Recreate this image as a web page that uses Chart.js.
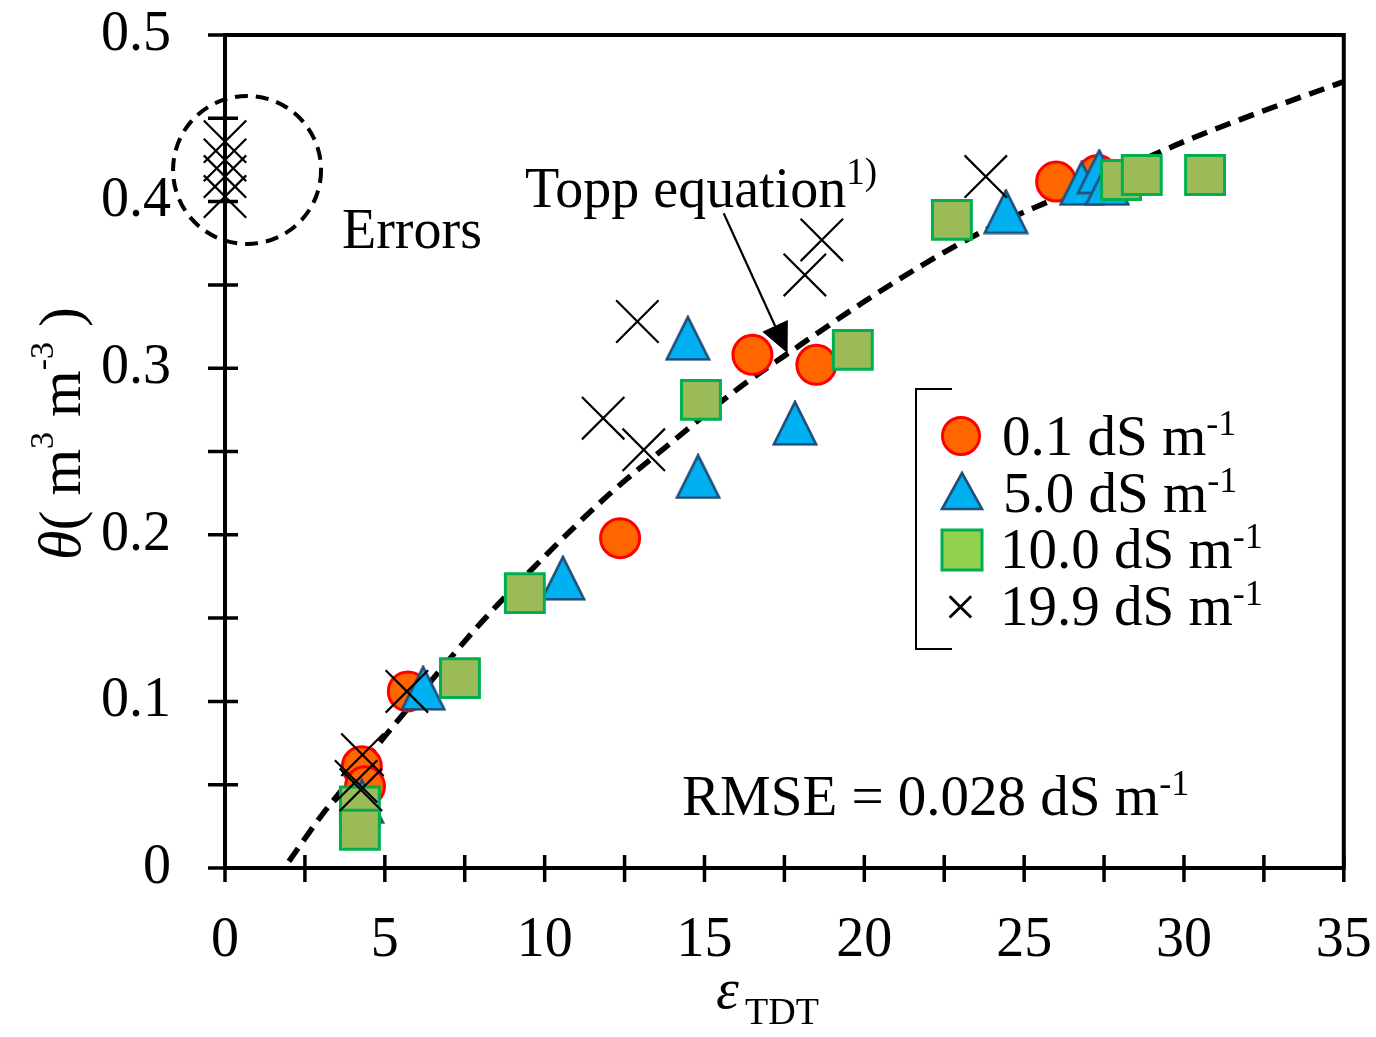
<!DOCTYPE html>
<html><head><meta charset="utf-8">
<script src="https://cdn.jsdelivr.net/npm/chart.js@4.4.0/dist/chart.umd.min.js"></script>
<style>html,body{margin:0;padding:0;background:#fff;}canvas{display:block;}</style>
</head><body>
<canvas id="c" width="1376" height="1037"></canvas>
<script>
// ---- data ----
const seriesLabels = ['0.1 dS m', '5.0 dS m', '10.0 dS m', '19.9 dS m'];

const epsCircle   = [4.28, 4.38, 5.72, 12.36, 16.5, 18.5, 26.0, 27.3];
const thetaCircle = [0.061, 0.049, 0.106, 0.198, 0.308, 0.302, 0.412, 0.416];

const epsTri   = [4.28, 6.2, 10.57, 14.48, 14.8, 17.83, 24.43, 26.8, 27.35, 27.6];
const thetaTri = [0.040, 0.108, 0.174, 0.318, 0.235, 0.267, 0.394, 0.411, 0.418, 0.411];

const epsSq   = [4.22, 4.22, 7.35, 9.38, 14.89, 19.64, 22.74, 28.03, 28.68, 30.66];
const thetaSq = [0.037, 0.023, 0.114, 0.165, 0.281, 0.311, 0.389, 0.413, 0.416, 0.416];

const epsX   = [0, 0, 0, 0, 4.1, 4.25, 4.3, 5.69, 11.83, 12.9, 13.1, 18.14, 18.67, 23.8];
const thetaX = [0.436, 0.425, 0.415, 0.403, 0.052, 0.047, 0.068, 0.106, 0.270, 0.328, 0.251, 0.356, 0.377, 0.415];

// Topp equation curve
const eps_Topp   = [2.0, 3.0, 4.0, 5.0, 6.0, 8.0, 10, 12, 14, 16, 18, 20, 22, 24, 26, 28, 30, 32, 35];
const theta_Topp = [0.004, 0.031, 0.055, 0.079, 0.102, 0.147, 0.187, 0.224, 0.256, 0.287, 0.314, 0.340, 0.364, 0.385, 0.402, 0.419, 0.436, 0.451, 0.472];

// ticks
const xTickValues = [0, 5, 10, 15, 20, 25, 30, 35];
const xTickLabels = ['0', '5', '10', '15', '20', '25', '30', '35'];
const yTickValues = [0, 0.1, 0.2, 0.3, 0.4, 0.5];
const yTickLabels = ['0', '0.1', '0.2', '0.3', '0.4', '0.5'];
const xTickMarks = [0, 2.5, 5, 7.5, 10, 12.5, 15, 17.5, 20, 22.5, 25, 27.5, 30, 32.5, 35];
const yTickMarks = [0, 0.05, 0.1, 0.15, 0.2, 0.25, 0.3, 0.35, 0.4, 0.45, 0.5];

// annotation anchors (data coordinates)
const errorsCircleCenter = {x: 0.69, y: 0.419};
const arrowTip = {x: 17.6, y: 0.309};
const arrowTail = {x: 15.6, y: 0.393};

// ---- rendering ----
const FONT = "'Liberation Serif', 'Times New Roman', serif";
const zip = (xs, ys) => xs.map((x, i) => ({x, y: ys[i]}));

// triangle marker (slightly taller than equilateral, like the reference)
const triImg = document.createElement('canvas');
triImg.width = 46; triImg.height = 46;
(function () {
  const c = triImg.getContext('2d');
  c.beginPath();
  c.moveTo(23, 1.8); c.lineTo(44.2, 44.2); c.lineTo(1.8, 44.2); c.closePath();
  c.fillStyle = '#00B0F0'; c.fill();
  c.lineWidth = 2.6; c.strokeStyle = '#1F4E79'; c.lineJoin = 'miter'; c.stroke();
})();

function drawRuns(ctx, x, y, parts) {
  let cx = x;
  for (const p of parts) {
    ctx.font = (p.italic ? 'italic ' : '') + p.size + 'px ' + FONT;
    ctx.fillText(p.t, cx, y - (p.rise || 0));
    cx += ctx.measureText(p.t).width + (p.gap || 0);
  }
  return cx;
}

const deco = {
  id: 'deco',
  beforeDatasetsDraw(chart) {
    const {ctx, chartArea: a, scales: {x, y}} = chart;
    ctx.save();
    ctx.strokeStyle = '#000';
    ctx.lineWidth = 4;
    ctx.strokeRect(a.left, a.top, a.right - a.left, a.bottom - a.top);
    ctx.lineWidth = 3.5;
    ctx.beginPath();
    for (const v of yTickMarks) {
      const py = y.getPixelForValue(v);
      ctx.moveTo(a.left - 17, py); ctx.lineTo(a.left + 13, py);
    }
    for (const v of xTickMarks) {
      const px = x.getPixelForValue(v);
      ctx.moveTo(px, a.bottom - 13); ctx.lineTo(px, a.bottom + 14);
    }
    ctx.stroke();
    ctx.restore();
  },
  afterDatasetsDraw(chart) {
    const {ctx, scales: {x, y}} = chart;
    ctx.save();
    ctx.fillStyle = '#000';
    ctx.strokeStyle = '#000';
    ctx.textBaseline = 'alphabetic';
    ctx.textAlign = 'left';

    // dashed "Errors" circle
    ctx.lineWidth = 4;
    ctx.setLineDash([13, 8]);
    ctx.beginPath();
    ctx.arc(x.getPixelForValue(errorsCircleCenter.x), y.getPixelForValue(errorsCircleCenter.y), 74, 0, Math.PI * 2);
    ctx.stroke();
    ctx.setLineDash([]);

    // arrow to Topp curve
    const tx = x.getPixelForValue(arrowTip.x), ty = y.getPixelForValue(arrowTip.y);
    const sx = x.getPixelForValue(arrowTail.x), sy = y.getPixelForValue(arrowTail.y);
    const dx = tx - sx, dy = ty - sy, L = Math.hypot(dx, dy);
    const ux = dx / L, uy = dy / L, hl = 30, hw = 14;
    ctx.lineWidth = 2.2;
    ctx.beginPath();
    ctx.moveTo(sx, sy); ctx.lineTo(tx - ux * hl, ty - uy * hl);
    ctx.stroke();
    ctx.beginPath();
    ctx.moveTo(tx, ty);
    ctx.lineTo(tx - ux * hl - uy * hw, ty - uy * hl + ux * hw);
    ctx.lineTo(tx - ux * hl + uy * hw, ty - uy * hl - ux * hw);
    ctx.closePath();
    ctx.fill();

    // texts
    drawRuns(ctx, 525, 207, [{t: 'Topp equation', size: 56}, {t: '1)', size: 37, rise: 23}]);
    drawRuns(ctx, 342, 248, [{t: 'Errors', size: 56}]);
    drawRuns(ctx, 682, 815, [{t: 'RMSE = 0.028 dS m', size: 57}, {t: '-1', size: 36, rise: 20}]);

    // legend bracket
    ctx.lineWidth = 2;
    ctx.beginPath();
    ctx.moveTo(952, 389); ctx.lineTo(916, 389); ctx.lineTo(916, 649); ctx.lineTo(952, 649);
    ctx.stroke();

    // legend markers
    ctx.lineWidth = 3;
    ctx.beginPath(); ctx.arc(961, 436, 18.5, 0, Math.PI * 2);
    ctx.fillStyle = '#FF6600'; ctx.fill(); ctx.strokeStyle = '#FF0000'; ctx.stroke();
    ctx.beginPath(); ctx.moveTo(962, 473); ctx.lineTo(982, 509); ctx.lineTo(942, 509); ctx.closePath();
    ctx.fillStyle = '#00B0F0'; ctx.fill(); ctx.strokeStyle = '#1F4E79'; ctx.lineWidth = 2.6; ctx.stroke();
    ctx.fillStyle = '#92D050'; ctx.fillRect(942, 530, 40, 40);
    ctx.strokeStyle = '#00B050'; ctx.lineWidth = 3; ctx.strokeRect(942, 530, 40, 40);

    ctx.fillStyle = '#000';
    drawRuns(ctx, 944, 626, [{t: '\u00D7', size: 58}]);
    const rowsY = [455, 512, 568, 625];
    const rowsX = [1002, 1003, 1000, 1000];
    seriesLabels.forEach((lab, i) => {
      drawRuns(ctx, rowsX[i], rowsY[i], [{t: lab, size: 57}, {t: '-1', size: 36, rise: 20}]);
    });

    // y axis title (rotated)
    ctx.save();
    ctx.translate(80, 560);
    ctx.rotate(-Math.PI / 2);
    drawRuns(ctx, 0, 0, [
      {t: '\u03B8', size: 60, italic: true},
      {t: '( m', size: 60},
      {t: '3', size: 34, rise: 27},
      {t: ' m', size: 60},
      {t: '-3', size: 34, rise: 27},
      {t: ' )', size: 60}
    ]);
    ctx.restore();

    // x axis title
    drawRuns(ctx, 716, 1008, [{t: '\u03B5', size: 58, italic: true}]);
    drawRuns(ctx, 745, 1024, [{t: 'TDT', size: 38}]);
    ctx.restore();
  }
};

const zeroPad = s => { s.paddingTop = 0; s.paddingBottom = 0; s.paddingLeft = 0; s.paddingRight = 0; };

new Chart(document.getElementById('c'), {
  type: 'scatter',
  data: {
    datasets: [
      {
        label: seriesLabels[3], data: zip(epsX, thetaX), order: 1, clip: false,
        pointStyle: 'crossRot', pointRadius: 30, borderColor: '#000', borderWidth: 2.2, backgroundColor: '#000'
      },
      {
        label: seriesLabels[2], data: zip(epsSq, thetaSq), order: 2, clip: false,
        pointStyle: 'rect', pointRadius: 27.5, backgroundColor: '#9BBB59', borderColor: '#00B050', borderWidth: 3
      },
      {
        label: seriesLabels[1], data: zip(epsTri, thetaTri), order: 3, clip: false,
        pointStyle: triImg, pointRadius: 23
      },
      {
        label: seriesLabels[0], data: zip(epsCircle, thetaCircle), order: 4, clip: false,
        pointStyle: 'circle', pointRadius: 19.5, backgroundColor: '#FF6600', borderColor: '#FF0000', borderWidth: 3
      },
      {
        label: 'Topp equation', data: zip(eps_Topp, theta_Topp), order: 5, clip: false,
        showLine: true, pointRadius: 0, borderColor: '#000', borderWidth: 5.5, borderDash: [16, 9],
        cubicInterpolationMode: 'monotone', fill: false
      }
    ]
  },
  options: {
    responsive: false,
    animation: false,
    devicePixelRatio: 1,
    layout: {padding: {top: 35, right: 32, left: 0, bottom: 0}},
    plugins: {legend: {display: false}, tooltip: {enabled: false}},
    scales: {
      x: {
        type: 'linear', min: 0, max: 35,
        grid: {display: false, drawTicks: false},
        border: {display: false},
        afterBuildTicks: s => { s.ticks = xTickValues.map(v => ({value: v})); },
        afterFit: s => { s.height = 169; zeroPad(s); },
        ticks: {
          callback: (v, i) => xTickLabels[i],
          color: '#000', padding: 40, maxRotation: 0, autoSkip: false,
          font: {family: FONT, size: 56}
        }
      },
      y: {
        type: 'linear', min: 0, max: 0.5,
        grid: {display: false, drawTicks: false},
        border: {display: false},
        afterBuildTicks: s => { s.ticks = yTickValues.map(v => ({value: v})); },
        afterFit: s => { s.width = 225; zeroPad(s); },
        ticks: {
          callback: (v, i) => yTickLabels[i],
          color: '#000', padding: 54, autoSkip: false,
          font: {family: FONT, size: 56}
        }
      }
    }
  },
  plugins: [deco]
});
</script>
</body></html>
